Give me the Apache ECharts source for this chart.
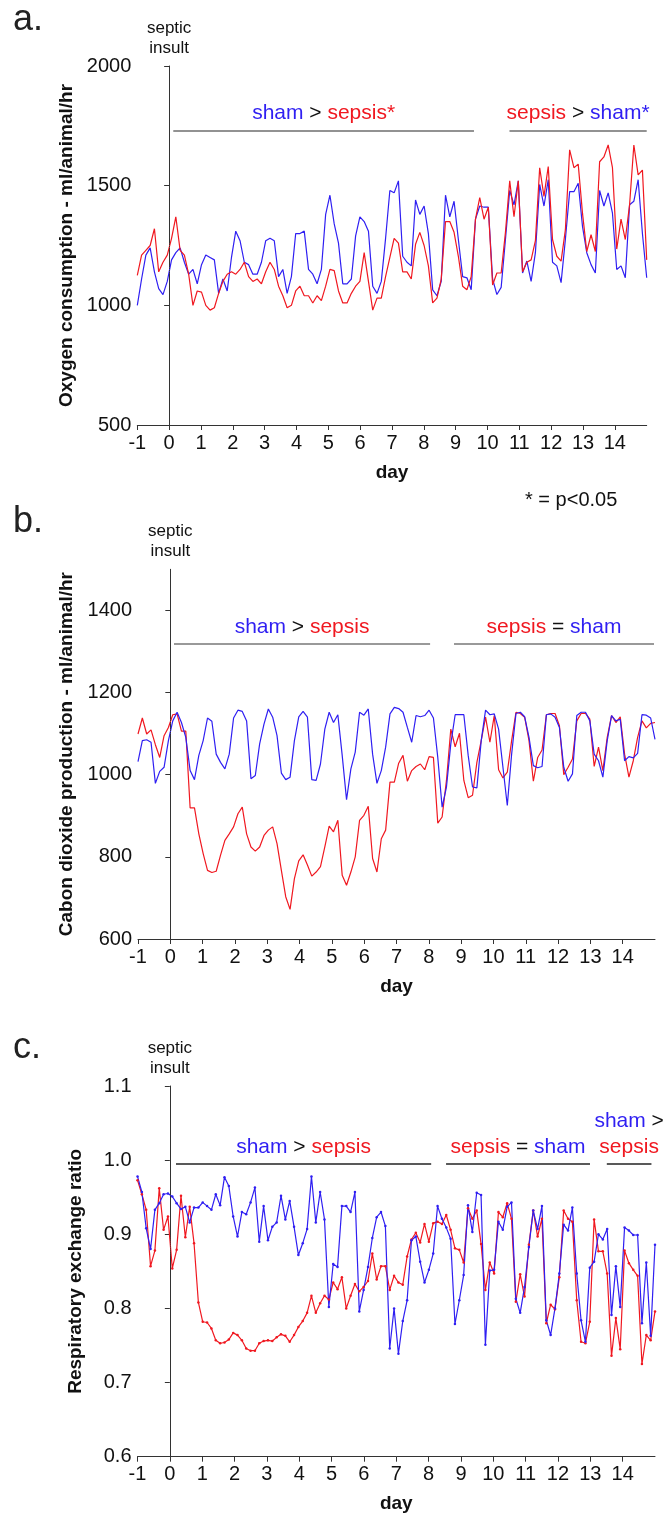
<!DOCTYPE html>
<html>
<head>
<meta charset="utf-8">
<script src="https://cdn.jsdelivr.net/npm/echarts@6/dist/echarts.min.js"></script>
<style>
html,body{margin:0;padding:0;background:#fff;}
#chart{width:666px;height:1517px;}
</style>
</head>
<body>
<div id="chart"></div>
<script>
// ---- data ----
var DAY_START = -1;            // first sample (day)
var DAY_END = 15;              // last sample (day)
var N_SAMPLES = 120;           // samples per series

var dayTicks = [-1,0,1,2,3,4,5,6,7,8,9,10,11,12,13,14];

var o2Sham = [1000,1110,1210,1240,1140,1070,1045,1100,1190,1220,1240,1180,1130,1150,1090,1170,1210,1200,1190,1050,1110,1060,1200,1310,1270,1180,1170,1130,1130,1180,1270,1280,1270,1120,1150,1050,1120,1300,1300,1310,1150,1130,1090,1150,1380,1460,1340,1260,1090,1090,1110,1290,1370,1350,1310,1080,1050,1100,1280,1480,1470,1520,
 1205,1180,1165,1440,1380,1415,1300,1065,1040,1100,1460,1370,1435,1275,1120,1115,1065,1360,1415,1410,1410,1110,1045,1075,1275,1480,1420,1520,1135,1185,1100,1220,1505,1415,1525,1180,1165,1095,1275,1475,1475,1510,1330,1220,1170,1135,1480,1415,1470,1385,1150,1165,1115,1420,1435,1525,1300,1115];
var o2Sepsis = [1125,1210,1230,1250,1320,1140,1180,1210,1280,1370,1230,1210,1130,1000,1060,1055,1000,980,990,1050,1100,1130,1140,1130,1150,1180,1120,1100,1110,1090,1140,1180,1150,1080,1040,990,1000,1060,1080,1040,1040,1010,1040,1020,1080,1150,1145,1060,1010,1010,1050,1080,1100,1220,1100,980,1030,1030,1120,1200,1280,1260,
 1140,1140,1110,1255,1305,1250,1165,1010,1030,1110,1350,1350,1305,1205,1080,1065,1120,1360,1450,1360,1410,1085,1135,1135,1305,1520,1370,1520,1140,1180,1190,1270,1575,1455,1580,1275,1205,1185,1315,1650,1575,1590,1385,1225,1295,1225,1600,1620,1670,1575,1235,1360,1275,1420,1670,1545,1565,1190];

var co2Sham = [1032,1083,1085,1079,979,1008,1018,1083,1131,1152,1127,1091,1010,988,1047,1083,1138,1130,1050,1030,1014,1050,1138,1157,1154,1131,990,998,1075,1123,1160,1140,1095,1004,988,994,1083,1141,1154,1140,988,986,1026,1111,1152,1127,1146,1047,939,1014,1055,1152,1145,1160,1050,979,1010,1067,1148,1164,1161,
 1152,1115,1079,1144,1141,1144,1157,1138,1042,921,970,1075,1146,1146,1146,1047,970,968,1083,1157,1146,1148,1111,1018,925,1050,1149,1152,1141,1091,1022,1017,1020,1146,1148,1140,1115,1018,984,1002,1144,1152,1152,1131,1050,1034,994,1083,1144,1131,1135,1034,1044,1041,1052,1146,1145,1138,1086];
var co2Sepsis = [1099,1138,1099,1109,1073,1042,1095,1115,1146,1148,1106,1106,919,919,856,808,767,762,765,804,840,856,873,905,921,856,824,814,824,852,865,873,832,767,703,672,747,790,805,780,753,763,776,824,875,861,889,755,731,763,800,889,901,923,796,763,844,865,982,982,1028,
 1047,984,1010,1020,1026,1012,1044,1042,882,897,986,1111,1068,1101,986,944,950,1030,1083,1140,1079,1144,1012,992,1006,1083,1152,1149,1140,1083,984,1042,1060,1146,1149,1149,1119,1000,1018,1038,1131,1149,1149,1135,1020,1067,1010,1091,1144,1127,1141,1050,994,1034,1091,1131,1114,1125,1127];

var rerSham = [0.978,0.957,0.908,0.880,0.933,0.942,0.954,0.955,0.951,0.942,0.934,0.937,0.916,0.936,0.936,0.943,0.938,0.933,0.954,0.939,0.977,0.965,0.924,0.897,0.930,0.927,0.943,0.963,0.890,0.938,0.892,0.910,0.916,0.952,0.920,0.945,0.910,0.872,0.888,0.907,0.978,0.916,0.957,0.920,0.802,0.860,0.856,0.938,0.938,0.930,0.957,0.796,0.825,0.856,0.895,0.923,0.930,0.911,0.746,0.800,0.739,
 0.783,0.811,0.892,0.897,0.863,0.835,0.852,0.874,0.938,0.921,0.909,0.894,0.779,0.811,0.845,0.939,0.903,0.956,0.953,0.751,0.851,0.852,0.917,0.906,0.937,0.943,0.813,0.794,0.829,0.883,0.932,0.907,0.938,0.784,0.764,0.800,0.847,0.913,0.905,0.936,0.847,0.784,0.755,0.855,0.863,0.900,0.893,0.907,0.791,0.857,0.802,0.909,0.905,0.899,0.899,0.780,0.862,0.763,0.886];
var rerSepsis = [0.973,0.954,0.933,0.857,0.878,0.962,0.906,0.924,0.854,0.879,0.952,0.896,0.937,0.888,0.808,0.782,0.781,0.773,0.757,0.753,0.754,0.758,0.767,0.764,0.757,0.746,0.743,0.743,0.753,0.756,0.757,0.756,0.761,0.765,0.763,0.755,0.764,0.775,0.783,0.794,0.817,0.794,0.807,0.817,0.812,0.835,0.826,0.842,0.800,0.817,0.833,0.823,0.829,0.837,0.874,0.839,0.857,0.857,0.825,0.844,0.835,
 0.832,0.870,0.893,0.902,0.889,0.914,0.890,0.915,0.917,0.914,0.926,0.906,0.881,0.879,0.862,0.935,0.921,0.932,0.887,0.825,0.862,0.847,0.930,0.923,0.942,0.921,0.809,0.846,0.816,0.886,0.932,0.897,0.921,0.780,0.805,0.799,0.842,0.932,0.921,0.917,0.811,0.755,0.753,0.782,0.920,0.877,0.877,0.847,0.736,0.787,0.745,0.878,0.861,0.852,0.844,0.725,0.764,0.757,0.796];

// annotation bars: [startDay, endDay, level]
var barsA = [[0.13, 9.575, 1730], [10.69, 15.0, 1730]];
var barsB = [[0.114, 8.04, 1318], [8.78, 14.97, 1318]];
var barsC = [[0.19, 8.08, 0.995], [8.54, 12.99, 0.995], [13.51, 14.89, 0.995]];

// ---- styles ----
var BLUE = '#2f1ff2';
var RED = '#f01820';
var FONT = 'Liberation Sans, Arial, Helvetica, sans-serif';

var step = (DAY_END - DAY_START) / (N_SAMPLES - 1);
function pairs(vals){ return vals.map(function(v,i){ return [DAY_START + i*step, v]; }); }

var richBase = {
  b: {color: BLUE, fontSize: 21, fontFamily: FONT},
  r: {color: RED, fontSize: 21, fontFamily: FONT},
  k: {color: '#111', fontSize: 21, fontFamily: FONT}
};
function barItem(bar, fmt, lineColor){
  return [
    {coord: [bar[0], bar[2]],
     lineStyle: {type: 'solid', color: lineColor, width: 1.5},
     label: {show: true, position: 'insideMiddleTop', distance: 4, formatter: fmt, rich: richBase,
             fontSize: 21, color: '#111', fontFamily: FONT, lineHeight: 26}},
    {coord: [bar[1], bar[2]]}
  ];
}
var septicLine = {
  xAxis: 0,
  lineStyle: {type: 'dotted', color: '#333', width: 1},
  label: {show: true, position: 'end', distance: 8, formatter: 'septic\ninsult', color: '#111', fontSize: 17, lineHeight: 20, fontFamily: FONT}
};

function xAxisCfg(idx){
  return {
    type: 'value', gridIndex: idx, min: -1, max: 15, interval: 1,
    name: 'day', nameLocation: 'middle', nameGap: 38,
    nameTextStyle: {fontSize: 19, fontWeight: 'bold', color: '#111', fontFamily: FONT},
    axisLine: {show: true, lineStyle: {color: '#333', width: 1}},
    axisTick: {show: true, length: 5, inside: false, customValues: dayTicks, lineStyle: {color: '#333'}},
    axisLabel: {fontSize: 20, color: '#111', margin: 8, fontFamily: FONT, customValues: dayTicks},
    splitLine: {show: false}
  };
}
function yAxisCfg(idx, min, max, ticks, name, fmt){
  return {
    type: 'value', gridIndex: idx, min: min, max: max,
    name: name, nameLocation: 'middle', nameGap: 52, nameRotate: 90,
    nameTextStyle: {fontSize: 19, fontWeight: 'bold', color: '#111', fontFamily: FONT},
    axisLine: {show: true, lineStyle: {color: '#333', width: 1}},
    axisTick: {show: true, length: 5, inside: false, customValues: ticks, lineStyle: {color: '#333'}},
    axisLabel: {fontSize: 20, color: '#111', margin: 6, fontFamily: FONT, customValues: ticks, formatter: fmt},
    splitLine: {show: false}
  };
}

function lineSeries(idx, vals, color, marker){
  return {
    type: 'line', xAxisIndex: idx, yAxisIndex: idx, data: pairs(vals),
    symbol: marker ? 'circle' : 'none', symbolSize: marker ? 2.5 : 0, showSymbol: !!marker,
    itemStyle: {color: color}, lineStyle: {color: color, width: 1.2},
    animation: false, silent: true, clip: false
  };
}

var sA = lineSeries(0, o2Sepsis, RED, false);
sA.markLine = {silent: true, symbol: ['none','none'], animation: false, data: [
  septicLine,
  barItem(barsA[0], '{b|sham} {k|>} {r|sepsis*}', '#6e6e6e'),
  barItem(barsA[1], '{r|sepsis} {k|>} {b|sham*}', '#6e6e6e')
]};
var sB = lineSeries(1, co2Sepsis, RED, false);
sB.markLine = {silent: true, symbol: ['none','none'], animation: false, data: [
  septicLine,
  barItem(barsB[0], '{b|sham} {k|>} {r|sepsis}', '#777'),
  barItem(barsB[1], '{r|sepsis} {k|=} {b|sham}', '#777')
]};
var sC = lineSeries(2, rerSepsis, RED, true);
sC.markLine = {silent: true, symbol: ['none','none'], animation: false, data: [
  septicLine,
  barItem(barsC[0], '{b|sham} {k|>} {r|sepsis}', '#222'),
  barItem(barsC[1], '{r|sepsis} {k|=} {b|sham}', '#222'),
  barItem(barsC[2], '{b|sham} {k|>}\n{r|sepsis}', '#222')
]};

var option = {
  animation: false,
  textStyle: {fontFamily: FONT},
  title: [
    {text: 'a.', left: 8, top: -3, textStyle: {fontSize: 36, fontWeight: 'normal', color: '#222', fontFamily: FONT}},
    {text: 'b.', left: 8, top: 499, textStyle: {fontSize: 36, fontWeight: 'normal', color: '#222', fontFamily: FONT}},
    {text: 'c.', left: 8, top: 1025, textStyle: {fontSize: 36, fontWeight: 'normal', color: '#222', fontFamily: FONT}},
    {text: '* = p<0.05', left: 520, top: 485, textStyle: {fontSize: 20, fontWeight: 'normal', color: '#111', fontFamily: FONT}}
  ],
  grid: [
    {left: 137.3, top: 66, width: 509.4, height: 359},
    {left: 138, top: 569.3, width: 517, height: 369.7},
    {left: 137.5, top: 1086, width: 517.5, height: 370.7}
  ],
  xAxis: [xAxisCfg(0), xAxisCfg(1), xAxisCfg(2)],
  yAxis: [
    yAxisCfg(0, 500, 2000, [500,1000,1500,2000], 'Oxygen consumption - ml/animal/hr', function(v){return String(v);}),
    yAxisCfg(1, 600, 1500, [600,800,1000,1200,1400], 'Cabon dioxide production - ml/animal/hr', function(v){return String(v);}),
    yAxisCfg(2, 0.6, 1.1, [0.6,0.7,0.8,0.9,1.0,1.1], 'Respiratory exchange ratio', function(v){return v.toFixed(1);})
  ],
  series: [
    lineSeries(0, o2Sham, BLUE, false), sA,
    sB, lineSeries(1, co2Sham, BLUE, false),
    sC, lineSeries(2, rerSham, BLUE, true)
  ]
};

var chart = echarts.init(document.getElementById('chart'), null, {renderer: 'canvas'});
chart.setOption(option);
</script>
</body>
</html>
